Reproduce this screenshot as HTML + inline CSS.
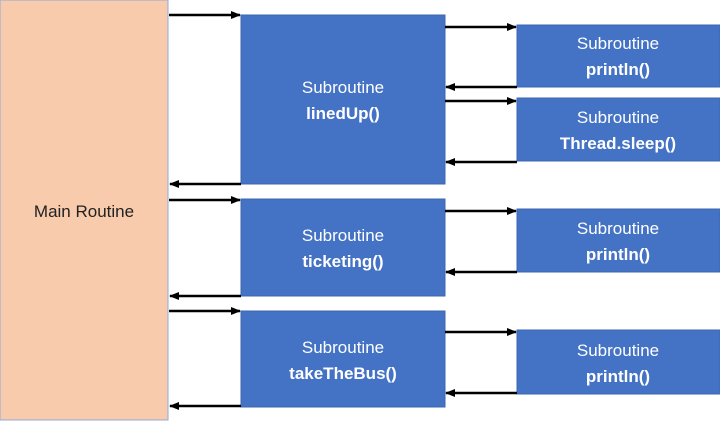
<!DOCTYPE html>
<html><head><style>
body{margin:0;background:#fff;}
svg{display:block;font-family:"Liberation Sans",sans-serif;}
</style></head><body>
<svg width="720" height="421" viewBox="0 0 720 421">
<defs><marker id="a" markerWidth="10" markerHeight="10" refX="9" refY="5" orient="auto" markerUnits="userSpaceOnUse"><path d="M0,1 L10,5 L0,9z" fill="#000"/></marker></defs>
<rect x="0" y="0" width="168" height="420" fill="#f8cbad" stroke="#8faadc" stroke-width="1"/>
<text x="84" y="217" font-size="17" text-anchor="middle" fill="#222">Main Routine</text>
<g fill="#4472c4" stroke="#3d67b0" stroke-width="1">
<rect x="241" y="15" width="204" height="169"/>
<rect x="241" y="199" width="204" height="97"/>
<rect x="241" y="311" width="204" height="96"/>
<rect x="517" y="25" width="203" height="62"/>
<rect x="517" y="98" width="203" height="63"/>
<rect x="517" y="209" width="203" height="63"/>
<rect x="517" y="330" width="203" height="64"/>
</g>
<g fill="#fff" font-size="17" text-anchor="middle">
<text x="343" y="93">Subroutine</text><text x="343" y="119" font-weight="bold">linedUp()</text>
<text x="343" y="241">Subroutine</text><text x="343" y="267" font-weight="bold">ticketing()</text>
<text x="343" y="353">Subroutine</text><text x="343" y="379" font-weight="bold">takeTheBus()</text>
<text x="618" y="49">Subroutine</text><text x="618" y="75" font-weight="bold">println()</text>
<text x="618" y="123">Subroutine</text><text x="618" y="149" font-weight="bold">Thread.sleep()</text>
<text x="618" y="234">Subroutine</text><text x="618" y="260" font-weight="bold">println()</text>
<text x="618" y="356">Subroutine</text><text x="618" y="382" font-weight="bold">println()</text>
</g>
<g stroke="#000" stroke-width="2.5" marker-end="url(#a)">
<line x1="169" y1="15" x2="240" y2="15"/>
<line x1="241" y1="184" x2="170" y2="184"/>
<line x1="169" y1="200" x2="240" y2="200"/>
<line x1="241" y1="296" x2="170" y2="296"/>
<line x1="169" y1="311" x2="240" y2="311"/>
<line x1="241" y1="406" x2="170" y2="406"/>
<line x1="445" y1="27" x2="516" y2="27"/>
<line x1="517" y1="87" x2="446" y2="87"/>
<line x1="445" y1="101" x2="516" y2="101"/>
<line x1="517" y1="162" x2="446" y2="162"/>
<line x1="445" y1="211" x2="516" y2="211"/>
<line x1="517" y1="272" x2="446" y2="272"/>
<line x1="445" y1="332" x2="516" y2="332"/>
<line x1="517" y1="393" x2="446" y2="393"/>
</g>
</svg>
</body></html>
